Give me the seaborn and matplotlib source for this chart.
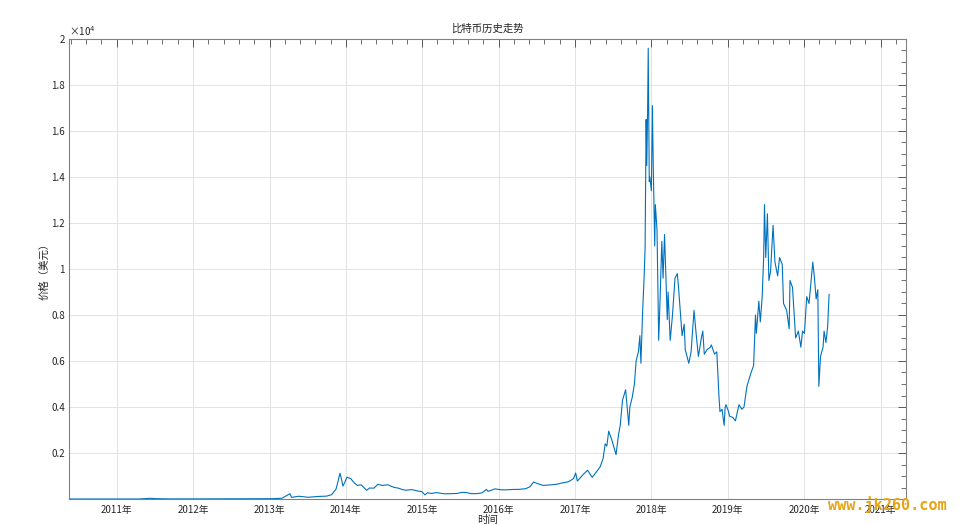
import pandas as pd
import numpy as np
import matplotlib
matplotlib.use("Agg")
import matplotlib.pyplot as plt
import matplotlib.dates as mdates
from matplotlib.ticker import FixedLocator, MultipleLocator
import seaborn as sns

sns.set_style("white")
plt.rcParams['font.family'] = ['Noto Sans CJK SC', 'DejaVu Sans']

# bitcoin price history
dates = [
    "2010-05-20", "2010-07-18", "2010-10-15", "2011-02-10", "2011-04-20", "2011-06-08", "2011-07-15",
    "2011-09-15", "2011-11-20", "2012-02-01", "2012-06-01", "2012-08-15", "2012-11-01",
    "2013-01-15", "2013-03-01", "2013-04-09", "2013-04-16", "2013-05-20", "2013-07-05",
    "2013-08-20", "2013-10-01", "2013-10-25", "2013-11-15", "2013-11-25", "2013-12-04",
    "2013-12-10", "2013-12-18", "2013-12-28", "2014-01-06", "2014-01-25", "2014-02-10",
    "2014-02-25", "2014-03-15", "2014-04-10", "2014-04-25", "2014-05-15", "2014-06-03",
    "2014-06-25", "2014-07-20", "2014-08-18", "2014-09-10", "2014-09-25", "2014-10-15",
    "2014-11-12", "2014-12-10", "2014-12-30", "2015-01-14", "2015-01-26", "2015-02-15",
    "2015-03-10", "2015-03-30", "2015-04-20", "2015-05-20", "2015-06-15", "2015-07-12",
    "2015-08-01", "2015-08-25", "2015-09-20", "2015-10-15", "2015-11-04", "2015-11-12",
    "2015-12-15", "2016-01-15", "2016-02-10", "2016-03-10", "2016-04-10", "2016-05-10",
    "2016-05-30", "2016-06-17", "2016-07-05", "2016-08-02", "2016-09-01", "2016-10-05",
    "2016-11-01", "2016-12-01", "2016-12-25", "2017-01-04", "2017-01-12", "2017-02-05",
    "2017-03-02", "2017-03-24", "2017-04-15", "2017-05-01", "2017-05-15", "2017-05-25",
    "2017-06-02", "2017-06-11", "2017-06-25", "2017-07-16", "2017-07-28", "2017-08-05",
    "2017-08-16", "2017-08-31", "2017-09-15", "2017-09-20", "2017-10-01", "2017-10-12",
    "2017-10-20", "2017-10-31", "2017-11-07", "2017-11-12", "2017-11-20", "2017-11-28",
    "2017-12-02", "2017-12-07", "2017-12-10", "2017-12-14", "2017-12-17", "2017-12-22",
    "2017-12-25", "2018-01-01", "2018-01-06", "2018-01-10", "2018-01-17", "2018-01-20",
    "2018-01-28", "2018-02-05", "2018-02-10", "2018-02-20", "2018-02-26", "2018-03-05",
    "2018-03-18", "2018-03-22", "2018-04-01", "2018-04-12", "2018-04-24", "2018-05-05",
    "2018-05-10", "2018-05-28", "2018-06-07", "2018-06-12", "2018-06-29", "2018-07-10",
    "2018-07-24", "2018-08-05", "2018-08-14", "2018-08-28", "2018-09-04", "2018-09-11",
    "2018-09-25", "2018-10-10", "2018-10-15", "2018-10-30", "2018-11-10", "2018-11-14",
    "2018-11-20", "2018-11-25", "2018-12-05", "2018-12-15", "2018-12-20", "2018-12-24",
    "2019-01-05", "2019-01-10", "2019-01-25", "2019-02-07", "2019-02-24", "2019-03-10",
    "2019-03-20", "2019-04-03", "2019-04-23", "2019-05-05", "2019-05-14", "2019-05-18",
    "2019-05-30", "2019-06-06", "2019-06-15", "2019-06-22", "2019-06-26", "2019-07-02",
    "2019-07-10", "2019-07-17", "2019-07-25", "2019-08-06", "2019-08-15", "2019-08-28",
    "2019-09-06", "2019-09-19", "2019-09-25", "2019-10-10", "2019-10-22", "2019-10-26",
    "2019-11-07", "2019-11-22", "2019-12-05", "2019-12-17", "2019-12-25", "2020-01-03",
    "2020-01-14", "2020-01-25", "2020-02-12", "2020-02-20", "2020-02-28", "2020-03-07",
    "2020-03-12", "2020-03-20", "2020-04-01", "2020-04-06", "2020-04-15", "2020-04-23",
    "2020-04-30",
]
price = [
    0.05, 0.06, 0.1, 1, 1.2, 30, 14,
    5, 3, 5.5, 6, 11, 11,
    14, 33, 230, 70, 120, 75,
    110, 125, 190, 430, 800, 1120,
    900, 560, 750, 950, 880, 700,
    590, 620, 380, 480, 470, 640,
    590, 620, 510, 470, 420, 380,
    410, 350, 320, 180, 270, 240,
    280, 250, 225, 235, 240, 290,
    280, 230, 235, 270, 420, 330,
    440, 400, 400, 415, 420, 450,
    530, 740, 670, 590, 610, 640,
    700, 750, 890, 1130, 780, 1030,
    1250, 940, 1200, 1400, 1750, 2400,
    2300, 2950, 2600, 1930, 2800, 3200,
    4300, 4750, 3200, 4000, 4400, 5000,
    6000, 6400, 7100, 5900, 8100, 9800,
    10900, 16500, 14500, 16800, 19600, 13800,
    14000, 13400, 17100, 14500, 11000, 12800,
    11700, 6900, 8200, 11200, 9600, 11500,
    7800, 9000, 6900, 8000, 9600, 9800,
    9300, 7100, 7600, 6500, 5900, 6400,
    8200, 7000, 6200, 7000, 7300, 6300,
    6500, 6600, 6700, 6300, 6400, 5600,
    4500, 3800, 3900, 3200, 4000, 4100,
    3800, 3600, 3550, 3400, 4100, 3900,
    4000, 4900, 5500, 5800, 8000, 7200,
    8600, 7700, 8800, 10500, 12800, 10500,
    12400, 9500, 9900, 11900, 10300, 9700,
    10500, 10200, 8500, 8200, 7400, 9500,
    9200, 7000, 7300, 6600, 7300, 7200,
    8800, 8500, 10300, 9600, 8700, 9100,
    4900, 6200, 6600, 7300, 6800, 7500,
    8900,
]

df = pd.DataFrame({"时间": pd.to_datetime(dates), "价格": price})

fig = plt.figure(figsize=(9.6, 5.24), dpi=100)
ax = fig.add_axes([0.0719, 0.0477, 0.8719, 0.8779])

sns.lineplot(data=df, x="时间", y="价格", ax=ax, color="#0072BD", linewidth=0.8)

ax.set_xlim(pd.Timestamp("2010-05-18"), pd.Timestamp("2021-05-03"))
ax.set_ylim(0, 20000)

years = list(range(2011, 2022))
year_labels = [f"{y}年" for y in years]
ax.set_xticks([pd.Timestamp(f"{y}-01-01") for y in years])
ax.set_xticklabels(year_labels)
minor = []
for y in range(2010, 2022):
    t0 = mdates.date2num(pd.Timestamp(f"{y}-01-01"))
    t1 = mdates.date2num(pd.Timestamp(f"{y+1}-01-01"))
    minor += [t0 + k * (t1 - t0) / 5 for k in range(1, 5)]
ax.xaxis.set_minor_locator(FixedLocator(minor))

yt = np.arange(2000, 20001, 2000)
ax.set_yticks(yt)
ax.set_yticklabels([f"{v/10000:g}" for v in yt])
ax.yaxis.set_minor_locator(MultipleLocator(500))

ax.grid(True, which="major", color="#e3e3e3", linewidth=0.7)
for s in ax.spines.values():
    s.set_color("#808080")
    s.set_linewidth(0.8)
ax.tick_params(which="both", direction="in", top=True, right=True,
               colors="#5a5a5a", labelsize=7, labelcolor="#262626")
ax.tick_params(which="major", length=6, width=0.7)
ax.tick_params(axis="y", which="major", pad=3)
ax.tick_params(axis="x", which="major", pad=4)
ax.tick_params(which="minor", length=3.5, width=0.6)

ax.text(0.0, 1.003, "×10$^{4}$", transform=ax.transAxes, fontsize=7,
        color="#262626", ha="left", va="bottom")
ax.set_title("比特币历史走势", fontsize=7.5, color="#262626", pad=5)
ax.set_xlabel("时间", fontsize=7.5, color="#262626", va="center")
ax.xaxis.set_label_coords(0.5, -0.046)
ax.set_ylabel("价格（美元）", fontsize=7.5, color="#262626", va="center")
ax.yaxis.set_label_coords(-0.029, 0.5)

fig.text(0.924, 0.037, "www.jk260.com", fontsize=11, color="#e8a317",
         fontweight="bold", family=["DejaVu Sans Mono", "DejaVu Sans"], ha="center", va="center")

fig.savefig("out.png", dpi=100, facecolor="white")
